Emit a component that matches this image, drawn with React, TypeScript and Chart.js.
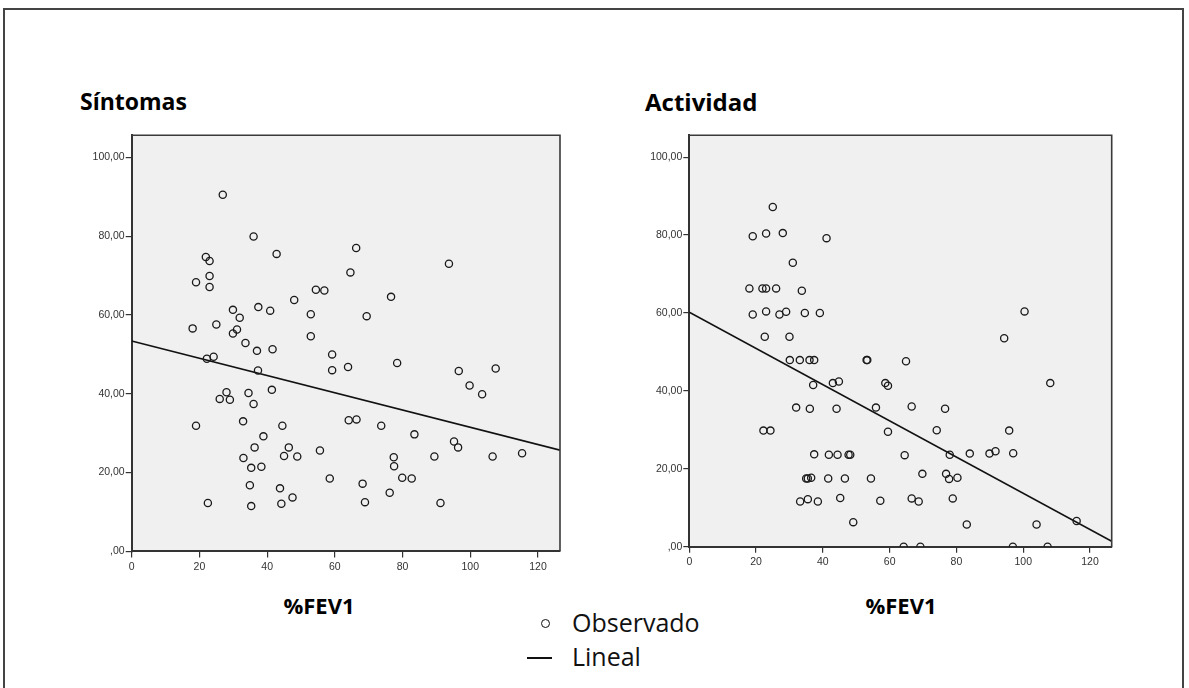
import React, { useEffect, useRef } from "react";
import { Chart, registerables } from "chart.js";

Chart.register(...registerables);

const X_TICKS = [0, 20, 40, 60, 80, 100, 120];
const Y_TICKS = [0, 20, 40, 60, 80, 100];
const X_MAX = 126.5;
const Y_MAX = 105.6;

const SINTOMAS_X = [26.9, 36.0, 42.8, 21.9, 23.0, 23.0, 19.0, 23.0, 54.4, 48.0, 29.9, 37.4, 40.9, 31.9, 52.9, 18.0, 25.0, 29.9, 31.1, 52.9, 66.3, 93.7, 64.6, 56.9, 76.6, 69.4, 33.6, 37.0, 41.6, 22.2, 24.2, 37.3, 41.4, 28.0, 34.5, 26.0, 29.0, 36.0, 19.0, 32.9, 44.5, 38.9, 36.3, 46.4, 33.0, 45.0, 48.9, 35.3, 38.3, 34.9, 43.8, 47.5, 22.5, 44.2, 35.3, 59.2, 59.2, 63.9, 78.4, 96.6, 107.5, 99.8, 103.5, 64.1, 66.4, 73.7, 83.5, 55.6, 95.2, 96.4, 77.4, 77.5, 89.4, 106.6, 115.3, 58.5, 79.9, 82.7, 68.2, 76.2, 68.9, 91.2];
const SINTOMAS_Y = [90.5, 79.9, 75.5, 74.7, 73.7, 69.9, 68.3, 67.1, 66.4, 63.8, 61.3, 62.0, 61.1, 59.3, 60.2, 56.6, 57.6, 55.3, 56.3, 54.6, 77.0, 73.0, 70.8, 66.2, 64.6, 59.7, 52.9, 50.9, 51.3, 48.9, 49.4, 45.9, 41.0, 40.4, 40.2, 38.7, 38.5, 37.4, 31.9, 33.0, 31.9, 29.2, 26.4, 26.4, 23.7, 24.2, 24.1, 21.2, 21.5, 16.8, 16.0, 13.7, 12.3, 12.1, 11.5, 50.0, 46.0, 46.8, 47.8, 45.8, 46.4, 42.1, 39.9, 33.3, 33.5, 31.9, 29.7, 25.6, 27.9, 26.4, 23.9, 21.6, 24.1, 24.1, 24.9, 18.5, 18.7, 18.5, 17.2, 14.9, 12.5, 12.3];

const ACTIVIDAD_X = [25.0, 19.0, 23.0, 28.0, 41.1, 31.0, 18.0, 21.9, 23.0, 26.0, 33.7, 19.0, 23.0, 27.0, 29.0, 34.6, 39.1, 22.6, 30.0, 100.4, 94.3, 30.1, 33.1, 36.0, 37.4, 53.1, 53.3, 43.0, 44.8, 37.1, 32.0, 36.1, 44.1, 22.2, 24.3, 37.4, 41.8, 44.4, 47.7, 48.2, 35.0, 35.5, 36.5, 41.6, 46.6, 54.4, 33.2, 35.5, 38.5, 45.2, 49.1, 64.9, 58.7, 59.5, 108.1, 55.9, 66.6, 76.6, 59.5, 74.1, 95.8, 64.5, 78.0, 84.0, 89.9, 91.7, 97.0, 69.8, 76.9, 77.8, 80.3, 57.2, 66.6, 68.7, 78.9, 83.1, 104.0, 116.0, 64.2, 69.2, 96.9, 107.3];
const ACTIVIDAD_Y = [87.2, 79.7, 80.4, 80.5, 79.2, 72.9, 66.3, 66.3, 66.3, 66.3, 65.7, 59.6, 60.4, 59.6, 60.3, 60.0, 60.0, 53.9, 53.9, 60.4, 53.5, 47.9, 47.9, 47.9, 47.9, 47.9, 47.9, 42.0, 42.4, 41.5, 35.7, 35.4, 35.4, 29.8, 29.8, 23.7, 23.6, 23.6, 23.6, 23.6, 17.5, 17.5, 17.7, 17.5, 17.5, 17.5, 11.6, 12.2, 11.6, 12.5, 6.3, 47.6, 42.0, 41.3, 42.0, 35.7, 36.0, 35.4, 29.5, 29.9, 29.8, 23.5, 23.6, 23.9, 23.9, 24.5, 24.0, 18.7, 18.7, 17.4, 17.7, 11.8, 12.4, 11.6, 12.4, 5.7, 5.7, 6.6, 0, 0, 0, 0];

const SINTOMAS_FIT_X = [0, 126.5];
const SINTOMAS_FIT_Y = [53.4, 25.7];
const ACTIVIDAD_FIT_X = [0, 126.5];
const ACTIVIDAD_FIT_Y = [60.2, 1.4];

const TICK_FONT = { family: "'Liberation Sans', Arial, sans-serif", size: 10.5 };

const plotBg = {
  id: "plotBg",
  beforeDraw(chart: any) {
    const { ctx, chartArea: a } = chart;
    ctx.save();
    ctx.fillStyle = "#f0f0f0";
    ctx.fillRect(a.left, a.top, a.right - a.left, a.bottom - a.top);
    ctx.restore();
  },
  afterDraw(chart: any) {
    const { ctx, chartArea: a } = chart;
    ctx.save();
    ctx.strokeStyle = "#3a3a3a";
    ctx.lineWidth = 1.6;
    ctx.beginPath();
    ctx.moveTo(a.left, a.top);
    ctx.lineTo(a.right, a.top);
    ctx.lineTo(a.right, a.bottom);
    ctx.stroke();
    ctx.restore();
  },
};

function fmtY(v: number) {
  if (v === 0) return ",00";
  return v.toFixed(2).replace(".", ",");
}

type PanelProps = {
  left: number;
  top: number;
  width: number;
  height: number;
  area: { left: number; top: number; right: number; bottom: number };
  xs: number[];
  ys: number[];
  fitX: number[];
  fitY: number[];
};

function Panel({ left, top, width, height, area, xs, ys, fitX, fitY }: PanelProps) {
  const ref = useRef<HTMLCanvasElement>(null);
  useEffect(() => {
    if (!ref.current) return;
    const chart = new Chart(ref.current, {
      type: "scatter",
      data: {
        datasets: [
          {
            label: "Observado",
            data: xs.map((x, i) => ({ x, y: ys[i] })),
            pointRadius: 3.6,
            pointHoverRadius: 3.6,
            pointBorderWidth: 1.3,
            borderColor: "#1a1a1a",
            backgroundColor: "rgba(0,0,0,0)",
            showLine: false,
          },
          {
            label: "Lineal",
            data: fitX.map((x, i) => ({ x, y: fitY[i] })),
            showLine: true,
            pointRadius: 0,
            borderColor: "#111",
            borderWidth: 1.6,
            backgroundColor: "rgba(0,0,0,0)",
          },
        ],
      },
      options: {
        animation: false,
        responsive: false,
        devicePixelRatio: 1,
        layout: {
          padding: { left: 0, top: area.top, right: width - area.right, bottom: 0 },
        },
        plugins: { legend: { display: false }, tooltip: { enabled: false } },
        scales: {
          x: {
            type: "linear",
            min: 0,
            max: X_MAX,
            afterFit(scale: any) {
              scale.height = height - area.bottom;
            },
            afterBuildTicks(scale: any) {
              scale.ticks = X_TICKS.map((v) => ({ value: v }));
            },
            ticks: {
              font: TICK_FONT,
              color: "#333",
              padding: 3,
              maxRotation: 0,
              autoSkip: false,
              callback: (v: any) => String(v),
            },
            grid: { drawOnChartArea: false, tickLength: 6, color: "#333", lineWidth: 1.2 },
            border: { display: true, color: "#333", width: 2 },
          },
          y: {
            type: "linear",
            min: 0,
            max: Y_MAX,
            afterFit(scale: any) {
              scale.width = area.left;
            },
            afterBuildTicks(scale: any) {
              scale.ticks = Y_TICKS.map((v) => ({ value: v }));
            },
            ticks: {
              font: TICK_FONT,
              color: "#333",
              padding: 1,
              autoSkip: false,
              callback: (v: any) => fmtY(Number(v)),
            },
            grid: { drawOnChartArea: false, tickLength: 6, color: "#333", lineWidth: 1.2 },
            border: { display: true, color: "#333", width: 2 },
          },
        },
      },
      plugins: [plotBg],
    } as any);
    return () => chart.destroy();
  }, []);
  return (
    <div style={{ position: "absolute", left, top, width, height }}>
      <canvas ref={ref} width={width} height={height} style={{ width, height, display: "block" }} />
    </div>
  );
}

const titleStyle: React.CSSProperties = {
  position: "absolute",
  fontFamily: "'Open Sans', sans-serif",
  fontWeight: 700,
  fontSize: 23,
  lineHeight: "23px",
  color: "#000",
  whiteSpace: "nowrap",
};

const axisTitleStyle: React.CSSProperties = {
  position: "absolute",
  fontFamily: "'Open Sans', sans-serif",
  fontWeight: 700,
  fontSize: 22,
  lineHeight: "22px",
  color: "#000",
  whiteSpace: "nowrap",
  transform: "translateX(-50%)",
};

const legendText: React.CSSProperties = {
  position: "absolute",
  fontFamily: "'Open Sans', sans-serif",
  fontSize: 25,
  lineHeight: "25px",
  color: "#111",
  whiteSpace: "nowrap",
};

export default function App() {
  return (
    <div
      style={{
        position: "absolute",
        left: 0,
        top: 0,
        width: 1189,
        height: 688,
        overflow: "hidden",
        background: "#fff",
      }}
    >
      <div
        style={{
          position: "absolute",
          left: 3,
          top: 8,
          width: 1181,
          height: 700,
          border: "2px solid #444",
          boxSizing: "border-box",
        }}
      />
      <div style={{ ...titleStyle, left: 80, top: 90 }}>Síntomas</div>
      <div style={{ ...titleStyle, left: 645, top: 90, fontSize: 24, lineHeight: "24px" }}>Actividad</div>

      <Panel
        left={60}
        top={120}
        width={520}
        height={470}
        area={{ left: 71.7, top: 15.3, right: 500, bottom: 431.4 }}
        xs={SINTOMAS_X}
        ys={SINTOMAS_Y}
        fitX={SINTOMAS_FIT_X}
        fitY={SINTOMAS_FIT_Y}
      />
      <Panel
        left={620}
        top={120}
        width={520}
        height={470}
        area={{ left: 69.3, top: 15.3, right: 491.7, bottom: 426.7 }}
        xs={ACTIVIDAD_X}
        ys={ACTIVIDAD_Y}
        fitX={ACTIVIDAD_FIT_X}
        fitY={ACTIVIDAD_FIT_Y}
      />

      <div style={{ ...axisTitleStyle, left: 319, top: 594 }}>%FEV1</div>
      <div style={{ ...axisTitleStyle, left: 901, top: 594 }}>%FEV1</div>

      <div
        style={{
          position: "absolute",
          left: 541,
          top: 618.5,
          width: 9,
          height: 9,
          borderRadius: "50%",
          border: "1.5px solid #111",
          boxSizing: "border-box",
        }}
      />
      <div style={{ ...legendText, left: 572, top: 610 }}>Observado</div>
      <div
        style={{
          position: "absolute",
          left: 527,
          top: 657,
          width: 25,
          height: 2,
          background: "#111",
        }}
      />
      <div style={{ ...legendText, left: 572, top: 644 }}>Lineal</div>
    </div>
  );
}
